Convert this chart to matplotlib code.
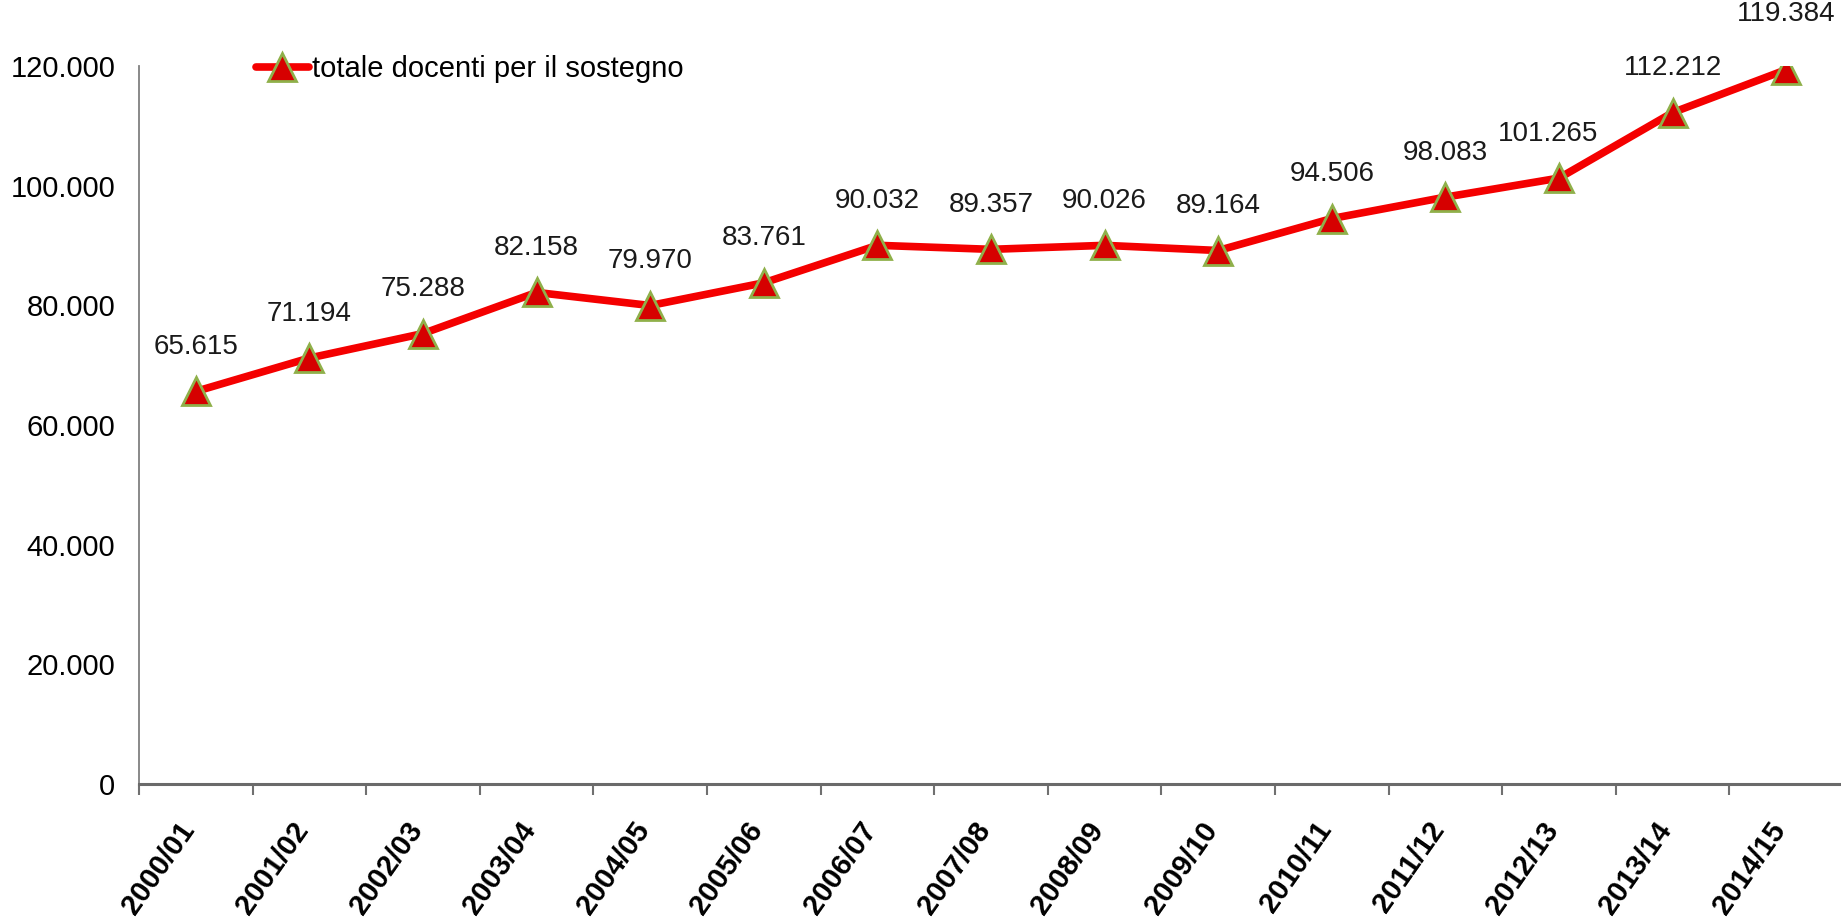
import matplotlib
matplotlib.use("Agg")
import matplotlib.pyplot as plt
from matplotlib.ticker import FuncFormatter, FixedLocator, NullLocator
from matplotlib.transforms import blended_transform_factory, ScaledTranslation
import numpy as np

# Anni scolastici e totale docenti per il sostegno
anni = ["2000/01", "2001/02", "2002/03", "2003/04", "2004/05", "2005/06",
        "2006/07", "2007/08", "2008/09", "2009/10", "2010/11", "2011/12",
        "2012/13", "2013/14", "2014/15"]
docenti = [65615, 71194, 75288, 82158, 79970, 83761, 90032, 89357, 90026,
           89164, 94506, 98083, 101265, 112212, 119384]
serie_nome = "totale docenti per il sostegno"
y_ticks = [0, 20000, 40000, 60000, 80000, 100000, 120000]


def fmt_it(v):
    return f"{int(round(v)):,}".replace(",", ".")


plt.rcParams["font.family"] = ["Liberation Sans", "DejaVu Sans"]

fig = plt.figure(figsize=(18.41, 9.17), dpi=100)
ax = fig.add_axes([139 / 1841, 133 / 917, (1843 - 139) / 1841, (784 - 66) / 917])

x = np.arange(len(anni))
line, = ax.plot(x, docenti, color="#f40000", lw=5.5, marker="^", markersize=20,
                markerfacecolor="#d60000", markeredgecolor="#8fb04a",
                markeredgewidth=2, label=serie_nome, zorder=3,
                solid_joinstyle="round", solid_capstyle="round")

for i, v in enumerate(docenti):
    dy = 40 if i == len(docenti) - 1 else 32
    dx = -8 if i == 12 else 0
    ax.annotate(fmt_it(v), (x[i], v), xytext=(dx, dy), textcoords="offset points",
                ha="center", va="center", fontsize=20, color="#1a1a1a")

ax.set_xlim(-0.5, len(anni) - 0.5)
ax.set_ylim(0, 120000)

# Tacche ai confini delle categorie, etichette ruotate al centro
ax.xaxis.set_major_locator(FixedLocator(np.arange(len(anni)) - 0.5))
ax.xaxis.set_major_formatter(FuncFormatter(lambda v, p: ""))
ax.xaxis.set_minor_locator(NullLocator())
ax.tick_params(axis="x", which="major", length=8, width=1.5, color="#707070",
               direction="out")

lab_tr = blended_transform_factory(ax.transData, ax.transAxes) + \
    ScaledTranslation(5 / 100, -33 / 100, fig.dpi_scale_trans)
for i, a in enumerate(anni):
    ax.text(x[i], 0, a, transform=lab_tr, rotation=55, ha="right", va="top",
            fontsize=21, fontweight="bold", color="black")

ax.set_yticks(y_ticks)
ax.yaxis.set_major_formatter(FuncFormatter(lambda v, p: fmt_it(v)))
ax.tick_params(axis="y", length=0, pad=17, labelsize=21)

for s in ["top", "right"]:
    ax.spines[s].set_visible(False)
ax.spines["left"].set_color("#808080")
ax.spines["left"].set_linewidth(1.3)
ax.spines["bottom"].set_color("#6a6a6a")
ax.spines["bottom"].set_linewidth(2.2)

fig.legend(handles=[line], loc="center left",
           bbox_to_anchor=(256 / 1841, 1 - 69 / 917),
           bbox_transform=fig.transFigure, frameon=False, fontsize=21,
           handlelength=1.8, handletextpad=0.12, borderpad=0,
           borderaxespad=0, numpoints=1)

fig.savefig("out.png", dpi=100, facecolor="white")
